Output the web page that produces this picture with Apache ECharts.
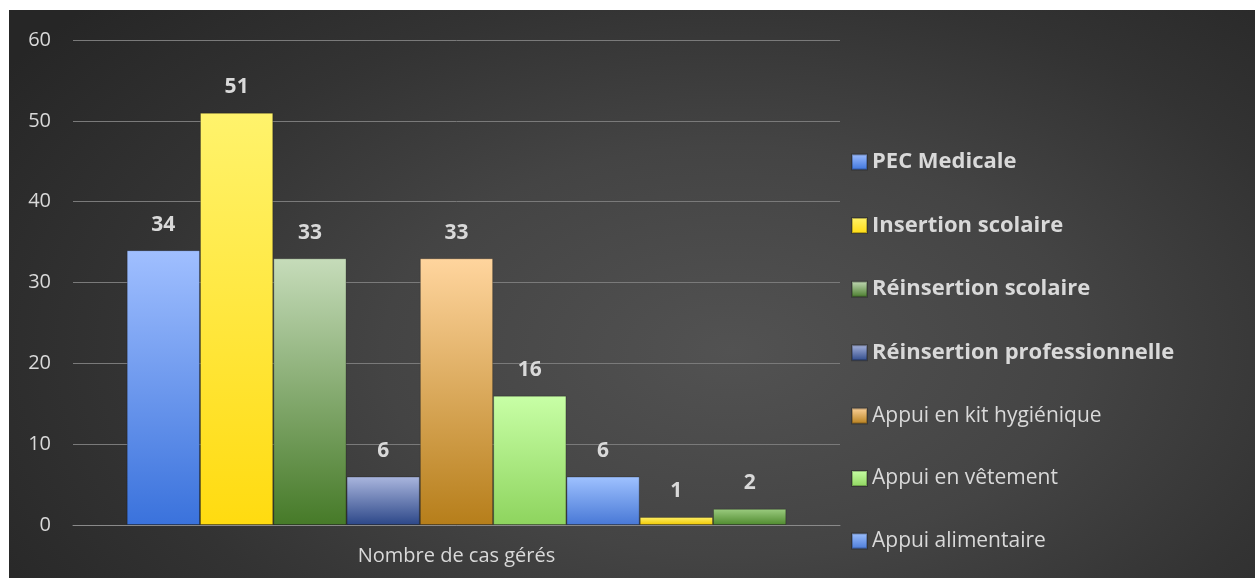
<!DOCTYPE html>
<html>
<head>
<meta charset="utf-8">
<script src="https://cdn.jsdelivr.net/npm/echarts@6/dist/echarts.min.js"></script>
<style>
  html, body { margin: 0; padding: 0; background: #fff; }
  .frame { position: relative; width: 1255px; height: 578px; overflow: hidden; }
  .bg {
    position: absolute; left: 9px; top: 10px; right: 0; bottom: 0;
    background: radial-gradient(ellipse 70% 90% at 58% 60%, #525252 0%, #444 40%, #333 70%, #262626 100%);
  }
  #chart { position: absolute; left: 0; top: 0; width: 1255px; height: 578px; }
</style>
</head>
<body>
<div class="frame">
  <div class="bg"></div>
  <div id="chart"></div>
</div>
<script>
const category = ['Nombre de cas gérés']
const seriesNames = [
  'PEC Medicale',
  'Insertion scolaire',
  'Réinsertion scolaire',
  'Réinsertion professionnelle',
  'Appui en kit hygiénique',
  'Appui en vêtement',
  'Appui alimentaire',
  'Autre 1',
  'Autre 2'
]
const values = [34, 51, 33, 6, 33, 16, 6, 1, 2]
const legendNames = seriesNames.slice(0, 7)
const boldLegend = seriesNames.slice(0, 4)
// top / bottom of each bar's gradient
const topColors = ['#a0bfff', '#fff36c', '#c6dcba', '#aab6de', '#ffd59e', '#c8ffa6', '#9fc2ff', '#fff06a', '#9ccc80']
const bottomColors = ['#3a72dc', '#ffdb10', '#467a28', '#2c4788', '#b67e1a', '#8ed45e', '#4878d6', '#f0c800', '#4f8a2e']

const txt = '#d9d9d9'
const chart = echarts.init(document.getElementById('chart'))

const series = seriesNames.map((name, i) => ({
  name,
  type: 'bar',
  data: [values[i]],
  barGap: '0%',
  barCategoryGap: '14%',
  itemStyle: {
    color: new echarts.graphic.LinearGradient(0, 0, 0, 1, [
      { offset: 0, color: topColors[i] },
      { offset: 1, color: bottomColors[i] }
    ]),
    borderColor: 'rgba(0,0,0,0.25)',
    borderWidth: 1
  },
  label: {
    show: true,
    position: 'top',
    distance: 15,
    color: txt,
    fontFamily: 'Open Sans',
    fontWeight: 'bold',
    fontSize: 21
  }
}))

chart.setOption({
  animation: false,
  textStyle: { fontFamily: 'Open Sans' },
  grid: { left: 73, right: 415, top: 40, bottom: 53 },
  legend: {
    data: legendNames,
    orient: 'vertical',
    left: 846,
    top: 146,
    itemWidth: 15,
    itemHeight: 15,
    itemGap: 41.6,
    icon: 'rect',
    formatter: name => boldLegend.includes(name) ? '{b|' + name + '}' : '{n|' + name + '}',
    textStyle: {
      color: txt,
      rich: {
        b: { fontFamily: 'Open Sans', fontSize: 22, fontWeight: 'bold', color: txt, lineHeight: 24 },
        n: { fontFamily: 'Open Sans', fontSize: 21, color: txt, lineHeight: 24 }
      }
    }
  },
  xAxis: {
    type: 'category',
    data: category,
    axisTick: { show: false },
    axisLine: { lineStyle: { color: '#8a8a8a', width: 1 } },
    axisLabel: { color: txt, fontSize: 20, margin: 21 }
  },
  yAxis: {
    type: 'value',
    min: 0,
    max: 60,
    interval: 10,
    axisLine: { show: false },
    axisTick: { show: false },
    axisLabel: { color: txt, fontSize: 20, margin: 22 },
    splitLine: { lineStyle: { color: '#7a7a7a', width: 1 } }
  },
  series
})
</script>
</body>
</html>
